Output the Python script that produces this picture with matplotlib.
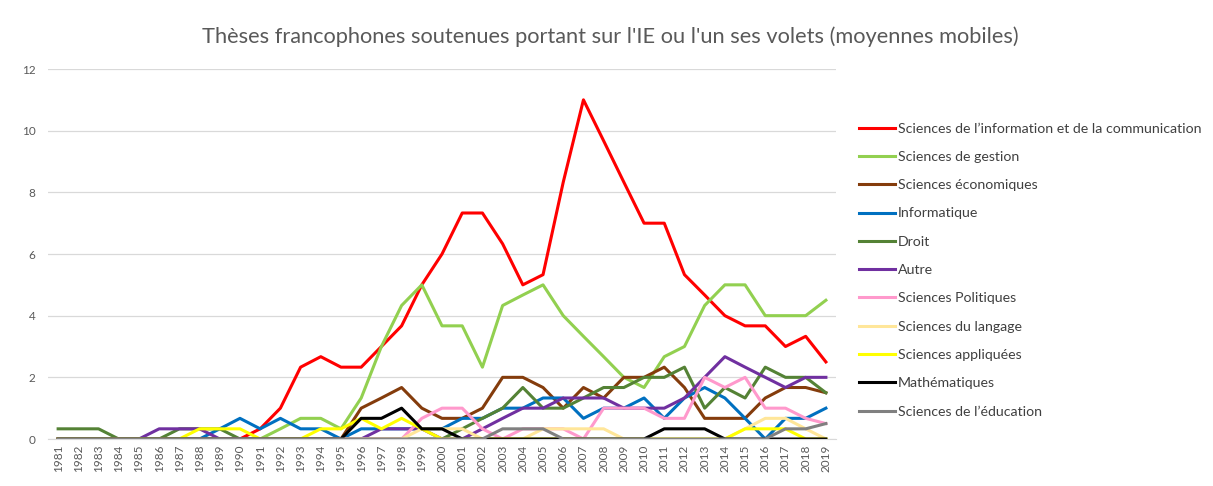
import matplotlib
matplotlib.use("Agg")
import matplotlib.pyplot as plt

years = [str(y) for y in range(1981, 2020)]

sic = [0, 0, 0, 0, 0, 0, 0, 0, 0, 0,
       0.33, 1, 2.33, 2.67, 2.33, 2.33, 3, 3.67, 5, 6,
       7.33, 7.33, 6.33, 5, 5.33, 8.33, 11, 9.67, 8.33, 7,
       7, 5.33, 4.67, 4, 3.67, 3.67, 3, 3.33, 2.5]
gestion = [0, 0, 0, 0, 0, 0, 0, 0, 0, 0,
           0, 0.33, 0.67, 0.67, 0.33, 1.33, 3, 4.33, 5, 3.67,
           3.67, 2.33, 4.33, 4.67, 5, 4, 3.33, 2.67, 2, 1.67,
           2.67, 3, 4.33, 5, 5, 4, 4, 4, 4.5]
economie = [0, 0, 0, 0, 0, 0, 0, 0, 0, 0,
            0, 0, 0, 0, 0, 1, 1.33, 1.67, 1, 0.67,
            0.67, 1, 2, 2, 1.67, 1, 1.67, 1.33, 2, 2,
            2.33, 1.67, 0.67, 0.67, 0.67, 1.33, 1.67, 1.67, 1.5]
informatique = [0, 0, 0, 0, 0, 0, 0, 0, 0.33, 0.67,
                0.33, 0.67, 0.33, 0.33, 0, 0.33, 0.33, 0.33, 0.33, 0.33,
                0.67, 0.67, 1, 1, 1.33, 1.33, 0.67, 1, 1, 1.33,
                0.67, 1.33, 1.67, 1.33, 0.67, 0, 0.67, 0.67, 1]
droit = [0.33, 0.33, 0.33, 0, 0, 0, 0.33, 0.33, 0.33, 0,
         0, 0, 0, 0, 0, 0, 0, 0, 0, 0,
         0.33, 0.67, 1, 1.67, 1, 1, 1.33, 1.67, 1.67, 2,
         2, 2.33, 1, 1.67, 1.33, 2.33, 2, 2, 1.5]
autre = [0, 0, 0, 0, 0, 0.33, 0.33, 0.33, 0, 0,
         0, 0, 0, 0, 0, 0, 0.33, 0.33, 0.33, 0,
         0, 0.33, 0.67, 1, 1, 1.33, 1.33, 1.33, 1, 1,
         1, 1.33, 2, 2.67, 2.33, 2, 1.67, 2, 2]
politiques = [0, 0, 0, 0, 0, 0, 0, 0, 0, 0,
              0, 0, 0, 0, 0, 0, 0, 0, 0.67, 1,
              1, 0.33, 0, 0.33, 0.33, 0.33, 0, 1, 1, 1,
              0.67, 0.67, 2, 1.67, 2, 1, 1, 0.67, 0.5]
langage = [0, 0, 0, 0, 0, 0, 0, 0, 0, 0,
           0, 0, 0, 0, 0, 0, 0, 0, 0.33, 0.33,
           0.33, 0, 0, 0, 0.33, 0.33, 0.33, 0.33, 0, 0,
           0, 0, 0, 0, 0.33, 0.67, 0.67, 0.33, 0]
appliquees = [0, 0, 0, 0, 0, 0, 0, 0.33, 0.33, 0.33,
              0, 0, 0, 0.33, 0.33, 0.67, 0.33, 0.67, 0.33, 0,
              0, 0, 0, 0, 0, 0, 0, 0, 0, 0,
              0, 0, 0, 0, 0.33, 0.33, 0.33, 0, 0]
maths = [0, 0, 0, 0, 0, 0, 0, 0, 0, 0,
         0, 0, 0, 0, 0, 0.67, 0.67, 1, 0.33, 0.33,
         0, 0, 0, 0, 0, 0, 0, 0, 0, 0,
         0.33, 0.33, 0.33, 0, 0, 0, 0, 0, 0]
education = [0, 0, 0, 0, 0, 0, 0, 0, 0, 0,
             0, 0, 0, 0, 0, 0, 0, 0, 0, 0,
             0, 0, 0.33, 0.33, 0.33, 0, 0, 0, 0, 0,
             0, 0, 0, 0, 0, 0, 0.33, 0.33, 0.5]

series = [
    ("Sciences de l’information et de la communication", sic, "#FF0000"),
    ("Sciences de gestion", gestion, "#92D050"),
    ("Sciences économiques", economie, "#843C0C"),
    ("Informatique", informatique, "#0070C0"),
    ("Droit", droit, "#548235"),
    ("Autre", autre, "#7030A0"),
    ("Sciences Politiques", politiques, "#FF99CC"),
    ("Sciences du langage", langage, "#FFE699"),
    ("Sciences appliquées", appliquees, "#FFFF00"),
    ("Mathématiques", maths, "#000000"),
    ("Sciences de l’éducation", education, "#808080"),
]

plt.rcParams['font.family'] = ['Lato', 'DejaVu Sans']

fig = plt.figure(figsize=(12.13, 4.86), dpi=100)
ax = fig.add_axes([0.0396, 0.0967, 0.6496, 0.7613])

x = list(range(len(years)))
for name, vals, col in series:
    ax.plot(x, vals, color=col, lw=2.2, label=name, solid_joinstyle='round')

ax.set_xlim(-0.5, len(years) - 0.5)
ax.set_ylim(0, 12)
ax.set_yticks(range(0, 13, 2))
ax.set_xticks(x)
ax.set_xticklabels(years, rotation=90)
ax.tick_params(axis='both', length=0, labelsize=8.5, colors='#595959')
ax.tick_params(axis='y', pad=9)
ax.tick_params(axis='x', pad=4)
ax.grid(axis='y', color='#D9D9D9', lw=0.9)
ax.set_axisbelow(True)
for s in ['top', 'right', 'left']:
    ax.spines[s].set_visible(False)
ax.spines['bottom'].set_color('#D9D9D9')

fig.suptitle("Thèses francophones soutenues portant sur l'IE ou l'un ses volets (moyennes mobiles)",
             x=0.503, y=0.945, fontsize=15.7, color='#595959')

fig.legend(loc='upper left', bbox_to_anchor=(0.698, 0.774), frameon=False,
           fontsize=10.2, handlelength=2.5, handletextpad=0.2, labelspacing=1.15,
           labelcolor='#404040')

fig.savefig("out.png", dpi=100)
